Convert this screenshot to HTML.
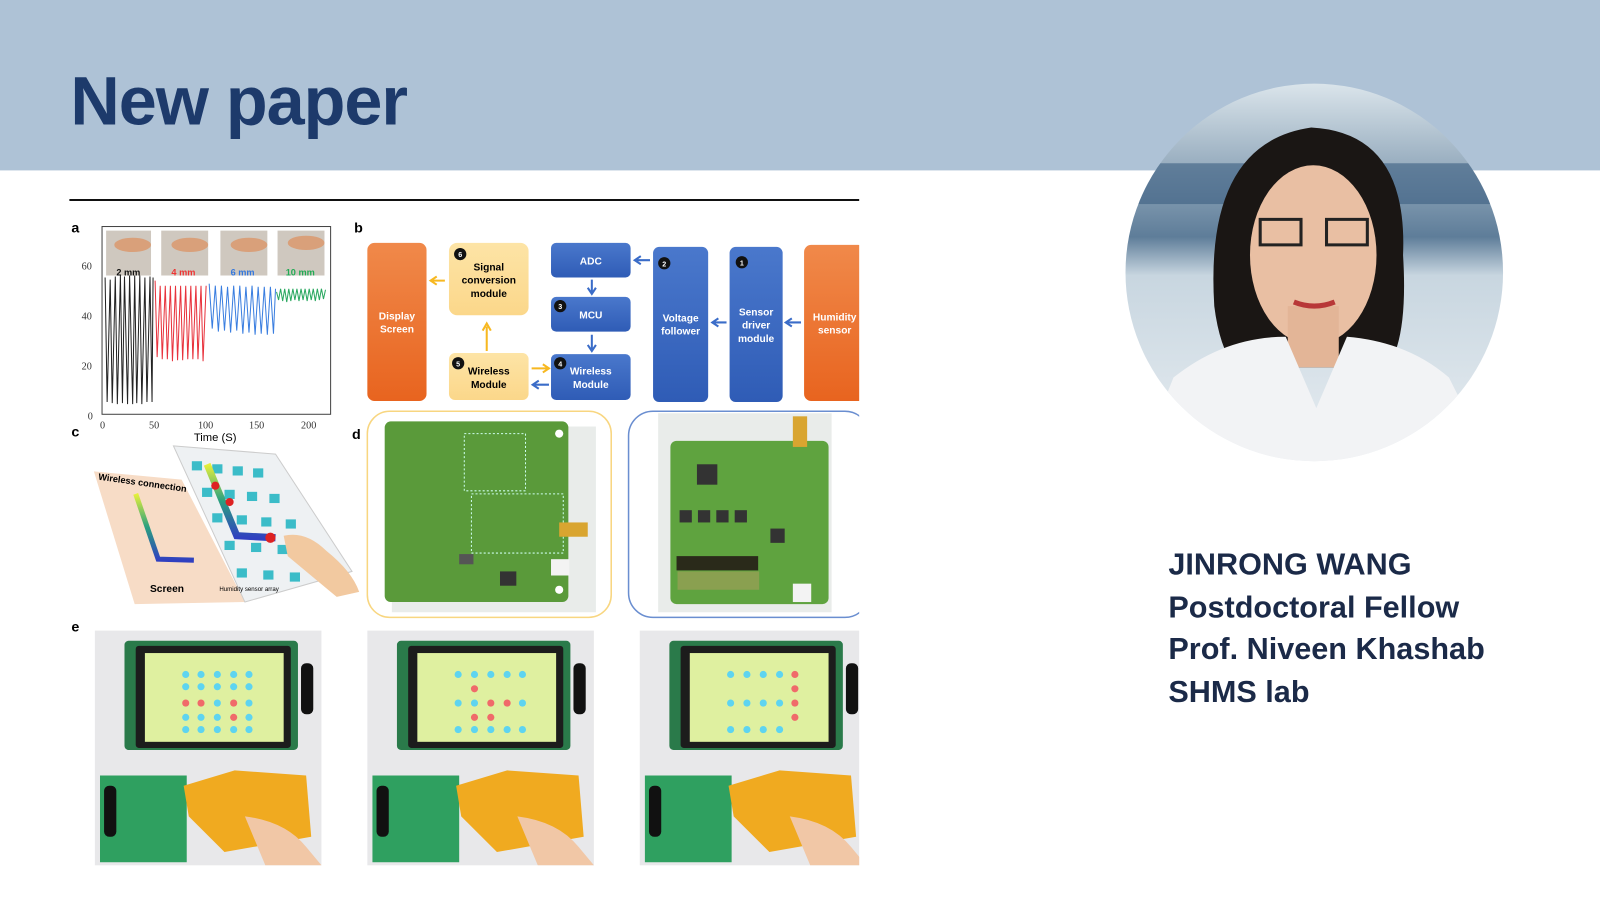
<!DOCTYPE html>
<html><head><meta charset="utf-8"><style>
body{margin:0;width:1600px;height:900px;overflow:hidden;background:#fff;font-family:"Liberation Sans",sans-serif}
#w{position:absolute;left:0;top:0;width:1568px;height:882px;transform:scale(1.0204);transform-origin:0 0}
.hdr{position:absolute;left:0;top:0;width:1568px;height:167px;background:#aec2d6}
.title{position:absolute;left:69px;top:61px;font-size:67px;font-weight:bold;color:#1d3a6b;letter-spacing:-1px}
.info{position:absolute;left:1145px;top:533px;font-size:30px;line-height:41.5px;color:#1b2a48;font-weight:bold}
svg{position:absolute;left:0;top:0}
</style></head><body><div id="w">
<div class="hdr"></div>
<div class="title">New paper</div>
<svg width="1568" height="882" viewBox="0 0 1568 882" font-family="Liberation Sans, sans-serif">
<defs>
<clipPath id="cc"><circle cx="1288" cy="267" r="185"/></clipPath>
<clipPath id="fc"><rect x="0" y="190" width="842" height="692"/></clipPath>
<linearGradient id="og" x1="0" y1="0" x2="0" y2="1"><stop offset="0" stop-color="#f0894a"/><stop offset="1" stop-color="#e8641f"/></linearGradient>
<linearGradient id="bg" x1="0" y1="0" x2="0" y2="1"><stop offset="0" stop-color="#4a78cc"/><stop offset="1" stop-color="#2f5cb6"/></linearGradient>
<linearGradient id="yg" x1="0" y1="0" x2="0" y2="1"><stop offset="0" stop-color="#fde4a6"/><stop offset="1" stop-color="#fbd78a"/></linearGradient>
<linearGradient id="lg" x1="0" y1="0" x2="0" y2="1"><stop offset="0" stop-color="#e8f03a"/><stop offset="0.5" stop-color="#2aa080"/><stop offset="1" stop-color="#3040c0"/></linearGradient>
<linearGradient id="pb" x1="0" y1="0" x2="0" y2="1"><stop offset="0" stop-color="#dce6ec"/><stop offset="0.4" stop-color="#5e7d99"/><stop offset="0.5" stop-color="#c8d6e0"/><stop offset="1" stop-color="#e9eef2"/></linearGradient>
</defs>
<g clip-path="url(#cc)">
<rect x="1100" y="80" width="380" height="380" fill="url(#pb)"/>
<rect x="1100" y="160" width="380" height="40" fill="#3a5d80" opacity="0.6"/>
<path d="M1190 300 Q1180 140 1285 125 Q1380 130 1375 250 Q1380 330 1360 360 L1210 360 Q1195 340 1190 300Z" fill="#1a1614"/>
<ellipse cx="1287" cy="250" rx="62" ry="88" fill="#e9bfa3"/>
<rect x="1262" y="300" width="50" height="60" fill="#e3b597"/>
<path d="M1110 470 L1150 370 Q1200 330 1260 330 L1290 400 L1320 330 Q1380 335 1420 370 L1470 470Z" fill="#f2f3f5"/>
<path d="M1235 215 h40 v25 h-40z M1300 215 h40 v25 h-40z" fill="none" stroke="#222" stroke-width="3"/>
<path d="M1268 296 q20 8 40 0" stroke="#b83838" stroke-width="5" fill="none"/>
</g>
<line x1="68" y1="196" x2="842" y2="196" stroke="#111" stroke-width="2"/>
<g clip-path="url(#fc)">
<text x="70" y="228" font-size="14" font-weight="bold">a</text>
<rect x="100" y="222" width="224" height="184" fill="none" stroke="#444" stroke-width="1"/>
<g font-family="Liberation Serif, serif" font-size="10" fill="#333">
<text x="80" y="264">60</text><text x="80" y="313">40</text><text x="80" y="362">20</text><text x="86" y="411">0</text>
<text x="98" y="420">0</text><text x="146" y="420">50</text><text x="194" y="420">100</text><text x="244" y="420">150</text><text x="295" y="420">200</text>
</g>
<text x="190" y="432" font-size="11">Time (S)</text>
<g fill="#cfc8bf"><rect x="104" y="226" width="44" height="44"/><rect x="158" y="226" width="46" height="44"/><rect x="216" y="226" width="46" height="44"/><rect x="272" y="226" width="46" height="44"/></g>
<g fill="#d9a07a"><ellipse cx="130" cy="240" rx="18" ry="7"/><ellipse cx="186" cy="240" rx="18" ry="7"/><ellipse cx="244" cy="240" rx="18" ry="7"/><ellipse cx="300" cy="238" rx="18" ry="7"/></g>
<g font-size="9" font-weight="bold"><text x="114" y="270" fill="#111">2 mm</text><text x="168" y="270" fill="#e33">4 mm</text><text x="226" y="270" fill="#37d">6 mm</text><text x="280" y="270" fill="#2a5">10 mm</text></g>
<g fill="none" stroke-width="1">
<polyline stroke="#222" points="103,272 105,394 108,274 110,395 113,271 115,396 118,270 120,395 122,271 125,396 127,270 130,396 132,270 134,395 137,270 139,396 142,272 144,394 147,271 149,394 150,272"/>
<polyline stroke="#e8323c" points="152,275 154,350 157,280 159,352 162,280 164,352 167,280 169,354 172,280 174,353 177,280 179,353 182,280 184,352 187,280 189,352 192,280 194,352 197,280 199,354 202,280"/>
<polyline stroke="#3a7ee0" points="205,278 208,322 211,280 214,325 217,280 220,324 223,281 226,326 229,280 232,324 235,280 238,327 241,281 244,326 247,280 250,328 253,281 256,327 259,281 262,328 265,281 268,327 270,283"/>
<polyline stroke="#2aa860" points="271,286 273,294 275,283 277,295 279,283 281,296 283,283 285,295 287,283 289,294 291,283 293,295 295,283 297,294 299,283 301,295 303,283 305,294 307,283 309,295 311,283 313,294 315,283 317,293 319,284"/>
</g>
<text x="70" y="428" font-size="14" font-weight="bold">c</text>
<polygon points="92,462 178,470 240,590 132,592" fill="#f7dcc6"/>
<polygon points="170,437 270,445 345,560 240,590" fill="#eef1f3" stroke="#ccc"/>
<g fill="#3bbcc8">
<rect x="188" y="452" width="10" height="9"/><rect x="208" y="455" width="10" height="9"/><rect x="228" y="457" width="10" height="9"/><rect x="248" y="459" width="10" height="9"/>
<rect x="198" y="478" width="10" height="9"/><rect x="220" y="480" width="10" height="9"/><rect x="242" y="482" width="10" height="9"/><rect x="264" y="484" width="10" height="9"/>
<rect x="208" y="503" width="10" height="9"/><rect x="232" y="505" width="10" height="9"/><rect x="256" y="507" width="10" height="9"/><rect x="280" y="509" width="10" height="9"/>
<rect x="220" y="530" width="10" height="9"/><rect x="246" y="532" width="10" height="9"/><rect x="272" y="534" width="10" height="9"/><rect x="298" y="536" width="10" height="9"/>
<rect x="232" y="557" width="10" height="9"/><rect x="258" y="559" width="10" height="9"/><rect x="284" y="561" width="10" height="9"/>
</g>
<path d="M203 455 L232 525 L270 527" stroke="url(#lg)" stroke-width="7" fill="none"/>
<path d="M133 484 L155 548 L190 549" stroke="url(#lg)" stroke-width="5" fill="none"/>
<circle cx="265" cy="527" r="5" fill="#d22"/><circle cx="225" cy="492" r="4" fill="#d22"/><circle cx="211" cy="476" r="4" fill="#d22"/>
<path d="M278 525 Q300 520 320 540 Q345 560 352 580 L330 585 Q300 560 282 545 Z" fill="#f2c9a0"/>
<text x="96" y="470" font-size="9" font-weight="bold" transform="rotate(8 96 470)">Wireless connection</text>
<text x="147" y="580" font-size="10" font-weight="bold">Screen</text>
<text x="215" y="579" font-size="6">Humidity sensor array</text>
<text x="347" y="228" font-size="14" font-weight="bold">b</text>
<rect x="360" y="238" width="58" height="155" rx="7" fill="url(#og)"/>
<rect x="788" y="240" width="60" height="153" rx="7" fill="url(#og)"/>
<rect x="440" y="238" width="78" height="71" rx="8" fill="url(#yg)"/>
<rect x="440" y="346" width="78" height="46" rx="6" fill="url(#yg)"/>
<rect x="540" y="238" width="78" height="34" rx="5" fill="url(#bg)"/>
<rect x="540" y="291" width="78" height="34" rx="5" fill="url(#bg)"/>
<rect x="540" y="347" width="78" height="45" rx="5" fill="url(#bg)"/>
<rect x="640" y="242" width="54" height="152" rx="6" fill="url(#bg)"/>
<rect x="715" y="242" width="52" height="152" rx="6" fill="url(#bg)"/>
<g font-size="10" font-weight="bold" text-anchor="middle">
<text x="389" y="313" fill="#fff">Display</text><text x="389" y="326" fill="#fff">Screen</text>
<text x="479" y="265">Signal</text><text x="479" y="278">conversion</text><text x="479" y="291">module</text>
<text x="479" y="367">Wireless</text><text x="479" y="380">Module</text>
<text x="579" y="259" fill="#fff">ADC</text><text x="579" y="312" fill="#fff">MCU</text>
<text x="579" y="367" fill="#fff">Wireless</text><text x="579" y="380" fill="#fff">Module</text>
<text x="667" y="315" fill="#fff">Voltage</text><text x="667" y="328" fill="#fff">follower</text>
<text x="741" y="309" fill="#fff">Sensor</text><text x="741" y="322" fill="#fff">driver</text><text x="741" y="335" fill="#fff">module</text>
<text x="818" y="314" fill="#fff">Humidity</text><text x="818" y="327" fill="#fff">sensor</text>
</g>
<g fill="#111"><circle cx="451" cy="249" r="6"/><circle cx="449" cy="356" r="6"/><circle cx="549" cy="300" r="6"/><circle cx="549" cy="356" r="6"/><circle cx="651" cy="258" r="6"/><circle cx="727" cy="257" r="6"/></g>
<g fill="#fff" font-size="7" text-anchor="middle" font-weight="bold"><text x="451" y="252">6</text><text x="449" y="359">5</text><text x="549" y="303">3</text><text x="549" y="359">4</text><text x="651" y="261">2</text><text x="727" y="260">1</text></g>
<g stroke-width="2" fill="none">
<path d="M436 275 H424 M428 271 L422 275 L428 279" stroke="#f7b820"/>
<path d="M477 344 V320 M473 324 L477 317 L481 324" stroke="#f7b820"/>
<path d="M521 361 H536 M532 357 L538 361 L532 365" stroke="#f7b820"/>
<path d="M538 377 H524 M528 373 L522 377 L528 381" stroke="#3a6cc8"/>
<path d="M637 255 H624 M628 251 L622 255 L628 259" stroke="#3a6cc8"/>
<path d="M580 274 V286 M576 282 L580 288 L584 282" stroke="#3a6cc8"/>
<path d="M580 328 V342 M576 338 L580 344 L584 338" stroke="#3a6cc8"/>
<path d="M712 316 H700 M704 312 L698 316 L704 320" stroke="#3a6cc8"/>
<path d="M785 316 H772 M776 312 L770 316 L776 320" stroke="#3a6cc8"/>
</g>
<text x="345" y="430" font-size="14" font-weight="bold">d</text>
<rect x="360" y="403" width="239" height="202" rx="22" fill="none" stroke="#f8d680" stroke-width="1.5"/>
<rect x="384" y="418" width="200" height="182" fill="#e9ecea"/>
<rect x="377" y="413" width="180" height="177" rx="6" fill="#5a9a3a"/>
<rect x="455" y="425" width="60" height="56" fill="none" stroke="#cfe" stroke-dasharray="2 2"/>
<rect x="462" y="484" width="90" height="58" fill="none" stroke="#cfe" stroke-dasharray="2 2"/>
<rect x="548" y="512" width="28" height="14" fill="#d9a530"/>
<circle cx="548" cy="425" r="4" fill="#fff"/><circle cx="548" cy="578" r="4" fill="#fff"/>
<rect x="540" y="548" width="18" height="16" fill="#f3f3f3"/>
<rect x="490" y="560" width="16" height="14" fill="#333"/><rect x="450" y="543" width="14" height="10" fill="#555"/>
<rect x="616" y="403" width="236" height="202" rx="24" fill="none" stroke="#6a8ed0" stroke-width="1.5"/>
<rect x="645" y="405" width="170" height="195" fill="#e9ecea"/>
<rect x="657" y="432" width="155" height="160" rx="6" fill="#5fa33f"/>
<rect x="777" y="408" width="14" height="30" fill="#d9a530"/>
<rect x="683" y="455" width="20" height="20" fill="#333"/>
<g fill="#333"><rect x="666" y="500" width="12" height="12"/><rect x="684" y="500" width="12" height="12"/><rect x="702" y="500" width="12" height="12"/><rect x="720" y="500" width="12" height="12"/><rect x="755" y="518" width="14" height="14"/></g>
<rect x="663" y="545" width="80" height="14" fill="#2a2a1a"/>
<rect x="664" y="560" width="80" height="18" fill="#8aa050"/>
<rect x="777" y="572" width="18" height="18" fill="#f3f3f3"/>
<text x="70" y="619" font-size="14" font-weight="bold">e</text>
<g id="ph">
<rect x="93" y="618" width="222" height="230" fill="#e8e8ea"/>
<rect x="122" y="628" width="170" height="107" rx="4" fill="#2a7a4a"/>
<rect x="133" y="633" width="152" height="100" rx="3" fill="#1c1c1c"/>
<rect x="142" y="640" width="136" height="87" fill="#dff0a0"/>
<rect x="98" y="760" width="85" height="85" fill="#2fa060"/>
<polygon points="180,770 230,755 300,760 305,820 220,835 185,800" fill="#f0aa20"/>
<rect x="102" y="770" width="12" height="50" rx="5" fill="#111"/>
<rect x="295" y="650" width="12" height="50" rx="5" fill="#111"/>
<path d="M240 800 Q280 805 300 830 L315 848 L260 848 Z" fill="#f1c7a6"/>
</g>
<g fill="#5ed4f0">
<circle cx="182" cy="661" r="3.5"/><circle cx="197" cy="661" r="3.5"/><circle cx="213" cy="661" r="3.5"/><circle cx="229" cy="661" r="3.5"/><circle cx="244" cy="661" r="3.5"/>
<circle cx="182" cy="673" r="3.5"/><circle cx="197" cy="673" r="3.5"/><circle cx="213" cy="673" r="3.5"/><circle cx="229" cy="673" r="3.5"/><circle cx="244" cy="673" r="3.5"/>
<circle cx="213" cy="689" r="3.5"/><circle cx="244" cy="689" r="3.5"/>
<circle cx="182" cy="703" r="3.5"/><circle cx="197" cy="703" r="3.5"/><circle cx="213" cy="703" r="3.5"/><circle cx="244" cy="703" r="3.5"/>
<circle cx="182" cy="715" r="3.5"/><circle cx="197" cy="715" r="3.5"/><circle cx="213" cy="715" r="3.5"/><circle cx="229" cy="715" r="3.5"/><circle cx="244" cy="715" r="3.5"/>
</g>
<g fill="#f06a6a"><circle cx="182" cy="689" r="3.5"/><circle cx="197" cy="689" r="3.5"/><circle cx="229" cy="689" r="3.5"/><circle cx="229" cy="703" r="3.5"/></g>
<use href="#ph" x="267"/>
<use href="#ph" x="534"/>
<g fill="#5ed4f0">
<circle cx="449" cy="661" r="3.5"/><circle cx="465" cy="661" r="3.5"/><circle cx="481" cy="661" r="3.5"/><circle cx="497" cy="661" r="3.5"/><circle cx="512" cy="661" r="3.5"/>
<circle cx="449" cy="689" r="3.5"/><circle cx="465" cy="689" r="3.5"/><circle cx="512" cy="689" r="3.5"/>
<circle cx="449" cy="715" r="3.5"/><circle cx="465" cy="715" r="3.5"/><circle cx="481" cy="715" r="3.5"/><circle cx="497" cy="715" r="3.5"/><circle cx="512" cy="715" r="3.5"/>
<circle cx="716" cy="661" r="3.5"/><circle cx="732" cy="661" r="3.5"/><circle cx="748" cy="661" r="3.5"/><circle cx="764" cy="661" r="3.5"/>
<circle cx="716" cy="689" r="3.5"/><circle cx="732" cy="689" r="3.5"/><circle cx="748" cy="689" r="3.5"/><circle cx="764" cy="689" r="3.5"/>
<circle cx="716" cy="715" r="3.5"/><circle cx="732" cy="715" r="3.5"/><circle cx="748" cy="715" r="3.5"/><circle cx="764" cy="715" r="3.5"/>
</g>
<g fill="#f06a6a"><circle cx="465" cy="675" r="3.5"/><circle cx="481" cy="689" r="3.5"/><circle cx="497" cy="689" r="3.5"/><circle cx="481" cy="703" r="3.5"/><circle cx="465" cy="703" r="3.5"/>
<circle cx="779" cy="661" r="3.5"/><circle cx="779" cy="675" r="3.5"/><circle cx="779" cy="689" r="3.5"/><circle cx="779" cy="703" r="3.5"/></g>
</g>
</svg>
<div class="info">JINRONG WANG<br>Postdoctoral Fellow<br>Prof. Niveen Khashab<br>SHMS lab</div>
</div></body></html>
